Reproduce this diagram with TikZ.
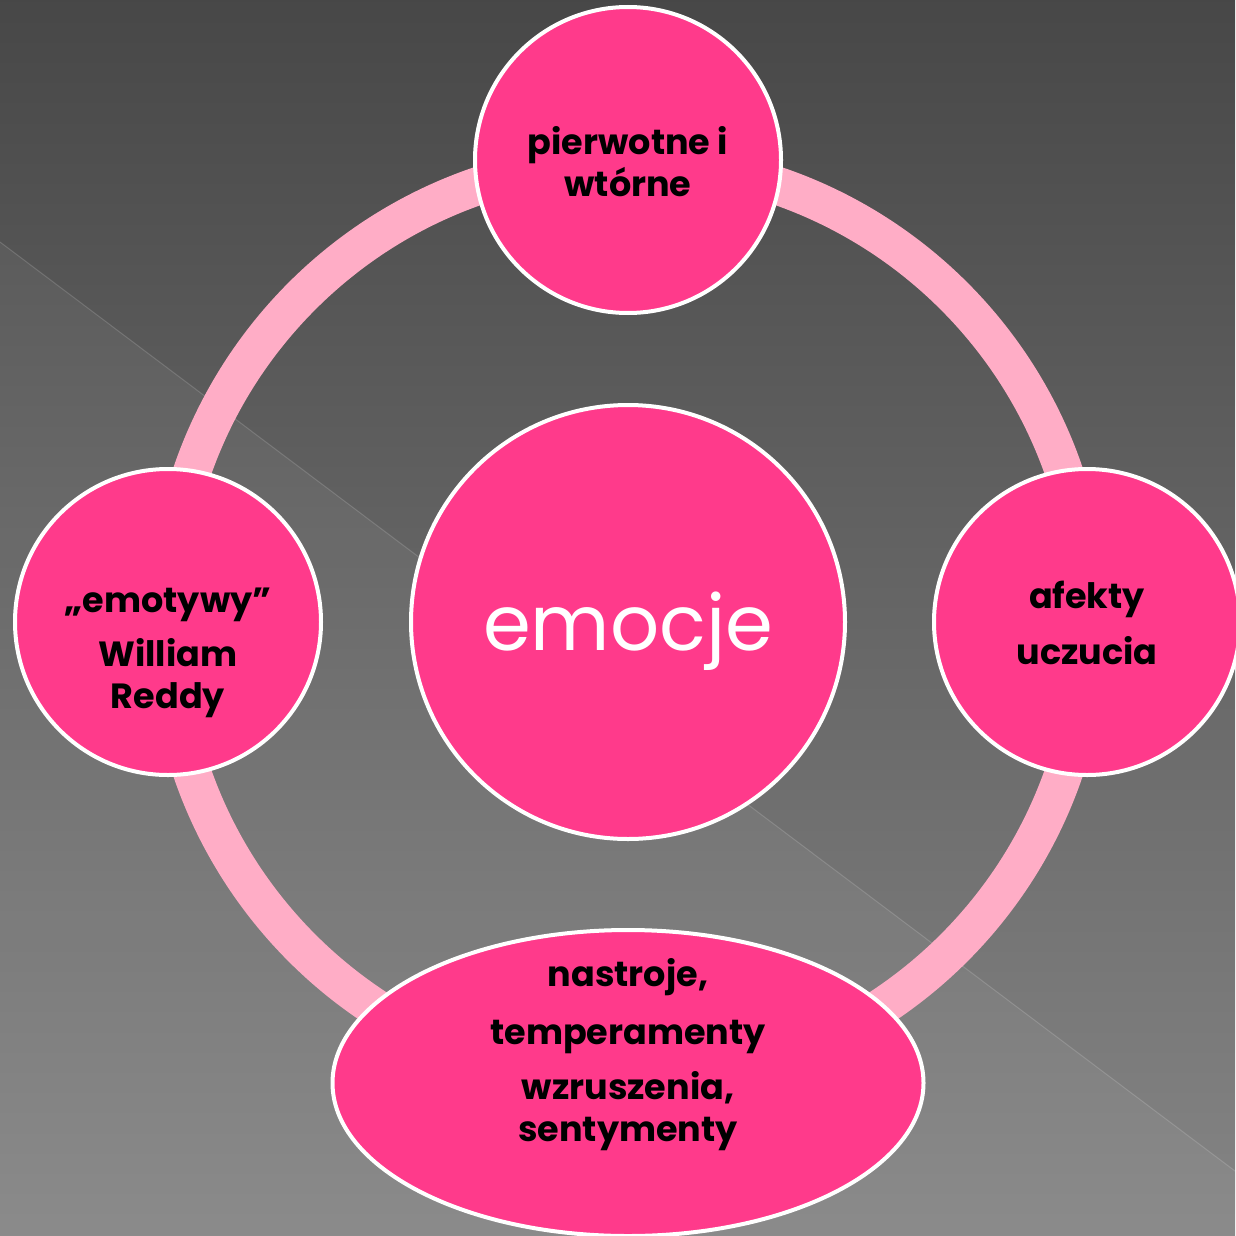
\documentclass[tikz,border=0pt]{standalone}
\usepackage{fontspec}
\setmainfont{Poppins}
\usetikzlibrary{shapes.geometric}
\definecolor{bubblepink}{HTML}{FF3A8B}
\definecolor{ringpink}{HTML}{FFADC6}
\begin{document}
\begin{tikzpicture}[x=1pt,y=-1pt]
    \tikzstyle{bubble}=[circle, fill=bubblepink, draw=white, line width=4pt, minimum size=306pt, inner sep=0pt]
    \tikzstyle{caption}=[align=center, font=\bfseries\fontsize{35}{42}\selectfont]
    % background
    \shade[top color=black!72, bottom color=black!48] (0,0) rectangle (1235,1236);
    \useasboundingbox (0,0) rectangle (1235,1236);
    \fill[white, opacity=0.05] (0,242) -- (1235,1171) -- (1235,1236) -- (0,1236) -- cycle;
    \draw[white, opacity=0.15, line width=1pt] (0,242) -- (1235,1171);
    % hub and ring
    \node[bubble, minimum size=434pt] (emocje) at (628,622) {};
    \node[text=white, font=\fontsize{77}{80}\selectfont] (emocjetxt) at ([yshift=-9]emocje.center) {emocje};
    \draw[ringpink, line width=38pt] (emocje.center) circle[radius=461];
    % satellites
    \node[bubble] (pierwotne) at (628,160) {};
    \node[bubble] (afekty) at (1087,622) {};
    \node[bubble] (emotywy) at (168,622) {};
    \node[bubble, ellipse, minimum width=591pt, minimum height=306pt] (nastroje) at (628,1083) {};
    \node[caption] (pierwotnetxt) at ([yshift=-2]pierwotne.center) {pierwotne i\\wtórne};
    \node[caption] (afektytxt) at ([yshift=-1]afekty.center) {afekty\\[14pt]uczucia};
    \node[caption] (emotywytxt) at ([yshift=-31]emotywy.center) {„emotywy”\\[12pt]William\\Reddy};
    \node[caption] (nastrojetxt) at ([yshift=28]nastroje.center) {nastroje,\\[16pt]temperamenty\\[13pt]wzruszenia,\\sentymenty};
\end{tikzpicture}
\end{document}
